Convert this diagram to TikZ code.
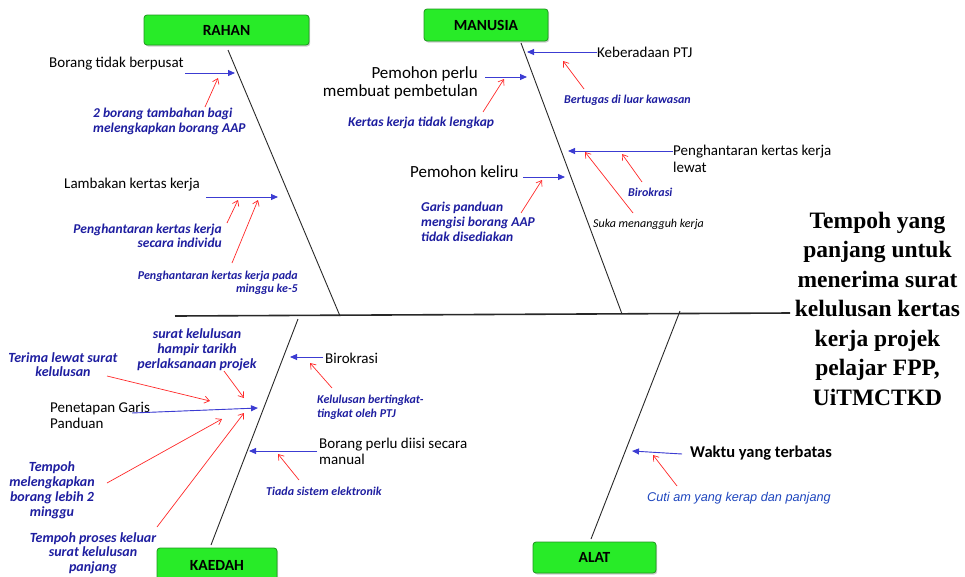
\documentclass[tikz,border=0pt]{standalone}
\usepackage{fontspec}
\setmainfont{Carlito}
\newfontfamily\serifbold{Liberation Serif}
\newfontfamily\arialfont{Liberation Sans}
\usetikzlibrary{arrows.meta,shadows}
\definecolor{bluetext}{RGB}{30,30,160}
\definecolor{bluetextb}{RGB}{30,70,190}
\definecolor{bluearrow}{RGB}{60,60,210}
\definecolor{redarrow}{RGB}{255,40,40}
\definecolor{boxgreen}{RGB}{40,235,40}
\definecolor{boxedge}{RGB}{30,150,30}
\definecolor{bonecol}{RGB}{40,40,40}
\begin{document}
\begin{tikzpicture}[x=1pt,y=-1pt,
  catbox/.style={draw=boxedge,fill=boxgreen,rounded corners=3pt,line width=0.8pt,
    drop shadow={shadow xshift=1.2pt,shadow yshift=-1.5pt,opacity=0.4},
    font=\fontsize{15.5}{17}\selectfont\bfseries,text=black,inner sep=0pt},
  bone/.style={draw=bonecol,line width=0.9pt},
  spine/.style={draw=bonecol,line width=1.6pt},
  barrow/.style={draw=bluearrow,line width=0.9pt,-{Triangle[length=7pt,width=6pt]},fill=bluearrow},
  rarrow/.style={draw=redarrow,line width=0.7pt,-{Straight Barb[length=5pt,width=7pt]}},
  blk/.style={inner sep=0pt,text=black,font=\fontsize{15}{17}\selectfont},
  blkbig/.style={inner sep=0pt,text=black,font=\fontsize{17}{18}\selectfont},
  bli/.style={inner sep=0pt,text=bluetext,font=\fontsize{13.5}{15}\selectfont\bfseries\itshape},
  blis/.style={inner sep=0pt,text=bluetext,font=\fontsize{12}{13}\selectfont\bfseries\itshape},
  blik/.style={inner sep=0pt,text=bluetext,font=\fontsize{14}{15}\selectfont\bfseries\itshape},
]
\useasboundingbox (0,0) rectangle (965,576);

% category boxes
\node[catbox,minimum width=165pt,minimum height=30pt] (rahan) at (226.5,30) {RAHAN};
\node[catbox,minimum width=124pt,minimum height=32pt] (manusia) at (486,25) {MANUSIA};
\node[catbox,minimum width=120pt,minimum height=34pt] (kaedah) at (217,565) {KAEDAH};
\node[catbox,minimum width=123pt,minimum height=31pt] (alat) at (594.5,557.5) {ALAT};

% spine and bones
\coordinate (spL) at (175,316);
\coordinate (spR) at (790,313);
\coordinate (rTop) at (228,50);
\coordinate (rBot) at (340,316);
\coordinate (mTop) at (521,43);
\coordinate (mBot) at (622,314);
\coordinate (kTop) at (298,319);
\coordinate (kBot) at (211,545);
\coordinate (aTop) at (680,311);
\coordinate (aBot) at (591,539);
\draw[spine] (spL) -- (spR);
\draw[bone] (rTop) -- (rBot);
\draw[bone] (mTop) -- (mBot);
\draw[bone] (kTop) -- (kBot);
\draw[bone] (aTop) -- (aBot);

% effect
\node[inner sep=0pt,anchor=base,align=center,font=\fontsize{23.5}{29.5}\selectfont\serifbold\bfseries] (effect) at (877.5,405)
 {Tempoh yang\\panjang untuk\\menerima surat\\kelulusan kertas\\kerja projek\\pelajar FPP,\\UiTMCTKD};

% ---------- RAHAN ----------
\node[blk,anchor=base west] (r1) at (49,67.5) {Borang tidak berpusat};
\node[bli,anchor=base west,align=left] (r1c) at (93,132) {2 borang tambahan bagi\\melengkapkan borang AAP};
\node[blk,anchor=base west] (r2) at (64,188.5) {Lambakan kertas kerja};
\node[bli,anchor=base east,align=right,font=\fontsize{13.5}{14}\selectfont\bfseries\itshape] (r2c) at (222,247) {Penghantaran kertas kerja\\secara individu};
\node[blis,anchor=base east,align=right] (r2d) at (298,292) {Penghantaran kertas kerja pada\\minggu ke-5};
\coordinate (r1s) at (185,73); \coordinate (r1e) at (235,73);
\coordinate (r2s) at (206,197); \coordinate (r2e) at (278,197);
\draw[barrow] (r1s) -- (r1e);
\draw[barrow] (r2s) -- (r2e);
\coordinate (rr1s) at (205,107); \coordinate (rr1e) at (218,78);
\coordinate (rr2s) at (227,223); \coordinate (rr2e) at (238,200);
\coordinate (rr3s) at (232,263); \coordinate (rr3e) at (258,200);
\draw[rarrow] (rr1s) -- (rr1e);
\draw[rarrow] (rr2s) -- (rr2e);
\draw[rarrow] (rr3s) -- (rr3e);

% ---------- MANUSIA ----------
\node[blk,anchor=base west] (m1) at (597,57.5) {Keberadaan PTJ};
\node[blis,anchor=base west] (m1c) at (564,103) {Bertugas di luar kawasan};
\node[blkbig,anchor=base east,align=right] (m2) at (478,96) {Pemohon perlu\\membuat pembetulan};
\node[bli,anchor=base west] (m2c) at (348,126.5) {Kertas kerja tidak lengkap};
\node[blkbig,anchor=base west] (m3) at (410,177) {Pemohon keliru};
\node[bli,anchor=base west,align=left] (m3c) at (421,241) {Garis panduan\\mengisi borang AAP\\tidak disediakan};
\node[blk,anchor=base west,align=left] (m4) at (673,172) {Penghantaran kertas kerja\\lewat};
\node[blis,anchor=base west] (m4c) at (628,196) {Birokrasi};
\node[inner sep=0pt,anchor=base west,text=black,font=\fontsize{12}{13}\selectfont\itshape] (m4d) at (593,227) {Suka menangguh kerja};
\coordinate (m1s) at (597,52); \coordinate (m1e) at (527,52);
\coordinate (m2s) at (485,77); \coordinate (m2e) at (527,77);
\coordinate (m3s) at (523,177); \coordinate (m3e) at (565,177);
\coordinate (m4s) at (673,151); \coordinate (m4e) at (568,151);
\draw[barrow] (m1s) -- (m1e);
\draw[barrow] (m2s) -- (m2e);
\draw[barrow] (m3s) -- (m3e);
\draw[barrow] (m4s) -- (m4e);
\coordinate (mr1s) at (584,89); \coordinate (mr1e) at (563,61);
\coordinate (mr2s) at (483,112); \coordinate (mr2e) at (504,79);
\coordinate (mr3s) at (521,213); \coordinate (mr3e) at (542,180);
\coordinate (mr4s) at (642,182); \coordinate (mr4e) at (622,154);
\coordinate (mr5s) at (633,213); \coordinate (mr5e) at (585,152);
\draw[rarrow] (mr1s) -- (mr1e);
\draw[rarrow] (mr2s) -- (mr2e);
\draw[rarrow] (mr3s) -- (mr3e);
\draw[rarrow] (mr4s) -- (mr4e);
\draw[rarrow] (mr5s) -- (mr5e);

% ---------- KAEDAH ----------
\node[blik,anchor=base,align=center] (k1a) at (197,368) {surat kelulusan\\hampir tarikh\\perlaksanaan projek};
\node[blik,anchor=base,align=center,font=\fontsize{14}{14}\selectfont\bfseries\itshape] (k1b) at (63,376) {Terima lewat surat\\kelulusan};
\node[blk,anchor=base west,align=left,font=\fontsize{15}{16}\selectfont] (k1) at (50,428) {Penetapan Garis\\Panduan};
\node[blik,anchor=base,align=center] (k1c) at (52,516) {Tempoh\\melengkapkan\\borang lebih 2\\minggu};
\node[blik,anchor=base,align=center,font=\fontsize{14}{14.5}\selectfont\bfseries\itshape] (k1d) at (93,571) {Tempoh proses keluar\\surat kelulusan\\panjang};
\node[blk,anchor=base west] (k2) at (325,363.5) {Birokrasi};
\node[blis,anchor=base west,align=left,font=\fontsize{12}{14}\selectfont\bfseries\itshape] (k2c) at (317,417) {Kelulusan bertingkat-\\tingkat oleh PTJ};
\node[blk,anchor=base west,align=left,font=\fontsize{15}{16}\selectfont] (k3) at (319,464) {Borang perlu diisi secara\\manual};
\node[blis,anchor=base west] (k3c) at (266,495) {Tiada sistem elektronik};
\coordinate (k1s) at (132,413); \coordinate (k1e) at (258,408);
\coordinate (k2s) at (323,357); \coordinate (k2e) at (290,357);
\coordinate (k3s) at (317,451); \coordinate (k3e) at (249,451);
\draw[barrow] (k1s) -- (k1e);
\draw[barrow] (k2s) -- (k2e);
\draw[barrow] (k3s) -- (k3e);
\coordinate (kr1s) at (107,376); \coordinate (kr1e) at (210,401);
\coordinate (kr2s) at (224,371); \coordinate (kr2e) at (244,398);
\coordinate (kr3s) at (107,483); \coordinate (kr3e) at (222,419);
\coordinate (kr4s) at (157,527); \coordinate (kr4e) at (244,413);
\coordinate (kr5s) at (332,388); \coordinate (kr5e) at (310,363);
\coordinate (kr6s) at (299,480); \coordinate (kr6e) at (278,454);
\draw[rarrow] (kr1s) -- (kr1e);
\draw[rarrow] (kr2s) -- (kr2e);
\draw[rarrow] (kr3s) -- (kr3e);
\draw[rarrow] (kr4s) -- (kr4e);
\draw[rarrow] (kr5s) -- (kr5e);
\draw[rarrow] (kr6s) -- (kr6e);

% ---------- ALAT ----------
\node[inner sep=0pt,anchor=base west,text=black,font=\fontsize{16.5}{18}\selectfont\bfseries] (a1) at (690,457.5) {Waktu yang terbatas};
\node[inner sep=0pt,anchor=base west,text=bluetextb,font=\fontsize{12.7}{14}\selectfont\arialfont\itshape] (a1c) at (647,501.5) {Cuti am yang kerap dan panjang};
\coordinate (a1s) at (682,454); \coordinate (a1e) at (632,451);
\draw[barrow] (a1s) -- (a1e);
\coordinate (ar1s) at (677,486); \coordinate (ar1e) at (653,455);
\draw[rarrow] (ar1s) -- (ar1e);
\end{tikzpicture}
\end{document}
